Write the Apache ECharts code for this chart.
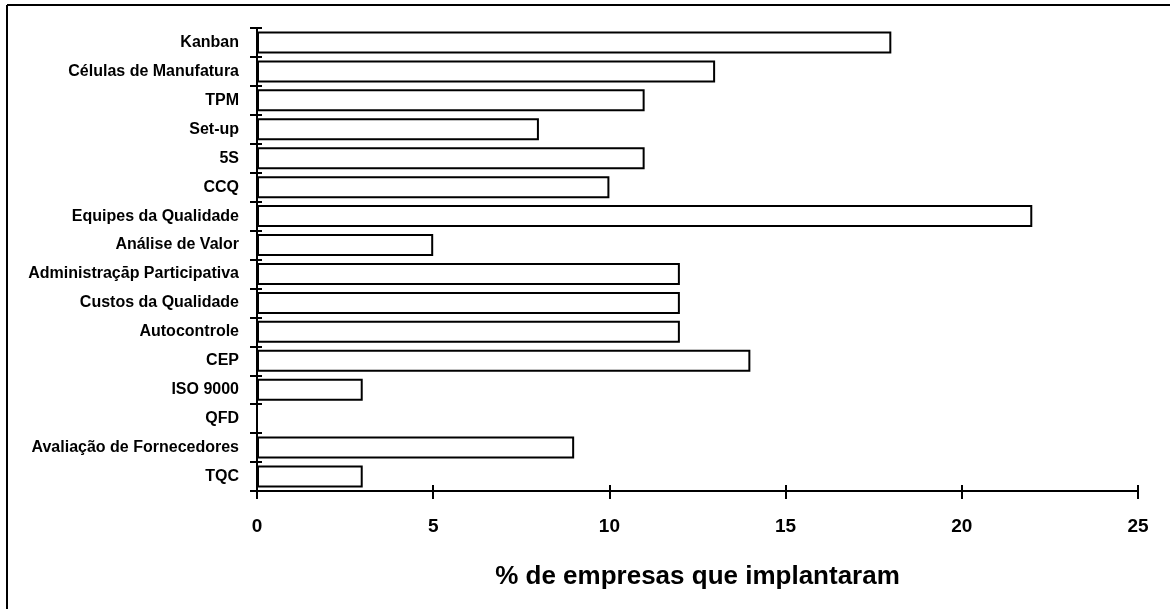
<!DOCTYPE html>
<html>
<head>
<meta charset="utf-8">
<script src="https://cdn.jsdelivr.net/npm/echarts@6/dist/echarts.min.js"></script>
<style>
  html, body { margin: 0; padding: 0; background: #fff; }
  #chart { width: 1170px; height: 609px; }
</style>
</head>
<body>
<div id="chart"></div>
<script>
// categories, top to bottom as in the picture
const categories = [
  'Kanban', 'Células de Manufatura', 'TPM', 'Set-up', '5S', 'CCQ',
  'Equipes da Qualidade', 'Análise de Valor', 'Administraçāp Participativa',
  'Custos da Qualidade', 'Autocontrole', 'CEP', 'ISO 9000', 'QFD',
  'Avaliação de Fornecedores', 'TQC'
];
const values = [18, 13, 11, 8, 11, 10, 22, 5, 12, 12, 12, 14, 3, 0, 9, 3];
const xTicks = [0, 5, 10, 15, 20, 25];
const axisTitle = '% de empresas que implantaram';

const chart = echarts.init(document.getElementById('chart'));
const font = 'Liberation Sans, Arial, sans-serif';

const option = {
  animation: false,
  backgroundColor: '#fff',
  grid: { left: 257, right: 32, top: 28, bottom: 118 },
  graphic: [
    // frame lines (top and left like the scan)
    { type: 'line', shape: { x1: 7, y1: 5, x2: 1170, y2: 5 }, style: { stroke: '#000', lineWidth: 2 } },
    { type: 'line', shape: { x1: 7, y1: 5, x2: 7, y2: 609 }, style: { stroke: '#000', lineWidth: 2 } }
  ],
  xAxis: [
    {
      type: 'value',
      min: xTicks[0],
      max: xTicks[xTicks.length - 1],
      interval: 5,
      name: axisTitle,
      nameLocation: 'middle',
      nameGap: 73,
      nameTextStyle: { fontFamily: font, fontWeight: 'bold', fontSize: 26, color: '#000', letterSpacing: -0.5 },
      axisLine: { show: true, lineStyle: { color: '#000', width: 2 } },
      axisTick: { show: true, inside: false, length: 8, lineStyle: { color: '#000', width: 2 } },
      axisLabel: { margin: 26, fontFamily: font, fontWeight: 'bold', fontSize: 19, color: '#000', letterSpacing: -1 },
      splitLine: { show: false }
    },
    {
      // same scale, only for the tick part above the axis line
      type: 'value',
      position: 'bottom',
      min: xTicks[0],
      max: xTicks[xTicks.length - 1],
      interval: 5,
      axisLine: { show: false },
      axisTick: { show: true, inside: true, length: 6, lineStyle: { color: '#000', width: 2 } },
      axisLabel: { show: false },
      splitLine: { show: false }
    }
  ],
  yAxis: [
    {
      type: 'category',
      data: categories,
      inverse: true,
      axisLine: { show: true, lineStyle: { color: '#000', width: 2 } },
      axisTick: { show: true, length: 7, lineStyle: { color: '#000', width: 2 } },
      axisLabel: { margin: 18, fontFamily: font, fontWeight: 'bold', fontSize: 16, color: '#000', letterSpacing: -0.15 }
    },
    {
      // second copy only to draw the tick parts inside the plot
      type: 'category',
      data: categories,
      inverse: true,
      position: 'left',
      axisLine: { show: false },
      axisTick: { show: true, inside: true, length: 5, lineStyle: { color: '#000', width: 2 } },
      axisLabel: { show: false }
    }
  ],
  series: [{
    type: 'bar',
    data: values,
    barCategoryGap: '24%',
    itemStyle: { color: '#fff', borderColor: '#000', borderWidth: 2 }
  }]
};
chart.setOption(option);
</script>
</body>
</html>
